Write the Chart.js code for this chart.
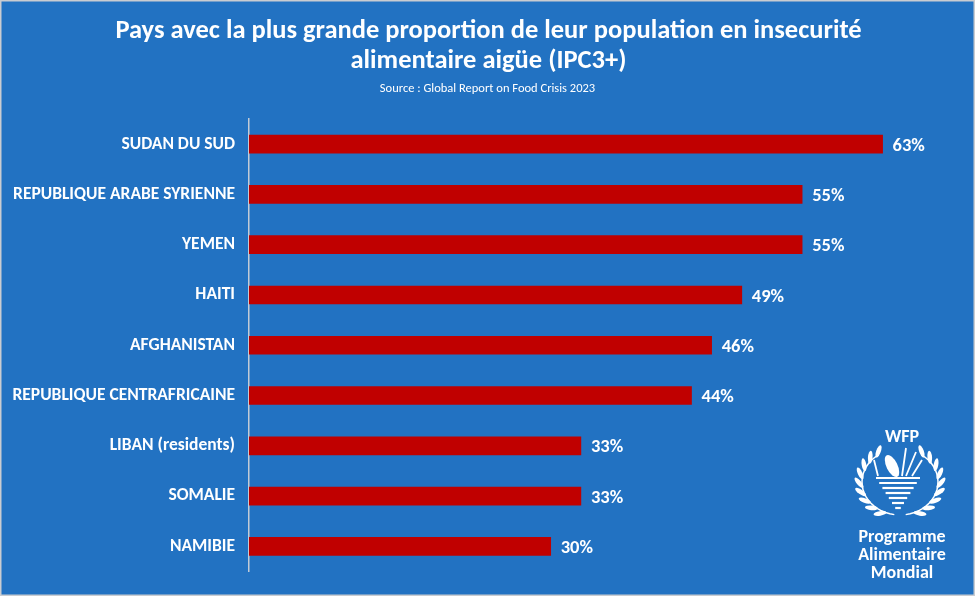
<!DOCTYPE html>
<html>
<head>
<meta charset="utf-8">
<script src="https://cdn.jsdelivr.net/npm/chart.js@4"></script>
<style>
  html, body { margin: 0; padding: 0; background: #2272c2; }
  #wrap { width: 975px; height: 596px; position: relative; }
</style>
</head>
<body>
<div id="wrap"><canvas id="graphique"></canvas></div>
<script>
const pays = [
    'SUDAN DU SUD',
    'REPUBLIQUE ARABE SYRIENNE',
    'YEMEN',
    'HAITI',
    'AFGHANISTAN',
    'REPUBLIQUE CENTRAFRICAINE',
    'LIBAN (residents)',
    'SOMALIE',
    'NAMIBIE'
];
const proportions = [63, 55, 55, 49, 46, 44, 33, 33, 30];
const titre = ['Pays avec la plus grande proportion de leur population en insecurité', 'alimentaire aigüe (IPC3+)'];
const source = 'Source : Global Report on Food Crisis 2023';

const POLICE = 'Carlito, "Open Sans", sans-serif';
const BLEU = '#2272c2';

// fond bleu + cadre gris
const fond = {
    id: 'fond',
    beforeDraw(chart) {
        const { ctx, width, height } = chart;
        ctx.save();
        ctx.fillStyle = BLEU;
        ctx.fillRect(0, 0, width, height);
        ctx.strokeStyle = '#c9ccd1';
        ctx.lineWidth = 3;
        ctx.strokeRect(0, 0, width, height);
        ctx.restore();
    }
};

// titre et source
const entete = {
    id: 'entete',
    afterDraw(chart) {
        const { ctx, width } = chart;
        ctx.save();
        ctx.fillStyle = '#ffffff';
        ctx.textAlign = 'center';
        ctx.textBaseline = 'middle';
        ctx.font = 'bold 26.5px ' + POLICE;
        ctx.fillText(titre[0], width / 2 + 1, 31);
        ctx.fillText(titre[1], width / 2 + 1, 61);
        ctx.font = '12.5px ' + POLICE;
        ctx.fillText(source, width / 2, 89);
        ctx.restore();
    }
};

// etiquettes de valeur au bout des barres
const valeurs = {
    id: 'valeurs',
    afterDatasetsDraw(chart) {
        const { ctx } = chart;
        const meta = chart.getDatasetMeta(0);
        ctx.save();
        ctx.fillStyle = '#ffffff';
        ctx.font = 'bold 18.5px ' + POLICE;
        ctx.textAlign = 'left';
        ctx.textBaseline = 'middle';
        meta.data.forEach((barre, i) => {
            ctx.fillText(proportions[i] + '%', barre.x + 10, barre.y + 2);
        });
        ctx.restore();
    }
};

// logo PAM (dessin simplifie)
const logo = {
    id: 'logo',
    afterDraw(chart) {
        const { ctx } = chart;
        const cx = 900, cy = 482;
        ctx.save();
        ctx.fillStyle = '#ffffff';
        ctx.strokeStyle = '#ffffff';
        ctx.textAlign = 'center';
        ctx.textBaseline = 'middle';
        ctx.font = 'bold 18px ' + POLICE;
        ctx.fillText('WFP', cx + 2, 437);

        // couronne de feuilles
        for (const cote of [-1, 1]) {
            ctx.lineWidth = 1.5;
            ctx.beginPath();
            for (let k = 0; k <= 20; k++) {
                const a = Math.PI / 2 + cote * (0.15 + k * 0.12);
                const x = cx + Math.cos(a) * 38;
                const y = cy + Math.sin(a) * 33;
                if (k === 0) ctx.moveTo(x, y); else ctx.lineTo(x, y);
            }
            ctx.stroke();
            for (let k = 1; k <= 9; k++) {
                const a = Math.PI / 2 + cote * (0.25 + k * 0.26);
                const x = cx + Math.cos(a) * 41;
                const y = cy + Math.sin(a) * 36;
                ctx.beginPath();
                ctx.ellipse(x, y, 6.5, 2.3, a + cote * 0.9, 0, Math.PI * 2);
                ctx.fill();
            }
        }

        // globe stylise
        ctx.lineWidth = 2.2;
        for (let k = 0; k < 7; k++) {
            const y = cy - 4 + k * 5;
            const demi = 24 - k * 3.2;
            ctx.beginPath();
            ctx.moveTo(cx - demi, y);
            ctx.lineTo(cx + demi - 4, y);
            ctx.stroke();
        }
        // epis
        ctx.beginPath();
        ctx.ellipse(cx - 8, cy - 16, 5.5, 12, -0.45, 0, Math.PI * 2);
        ctx.fill();
        ctx.lineWidth = 1.8;
        ctx.beginPath();
        ctx.moveTo(cx + 2, cy - 6); ctx.lineTo(cx + 6, cy - 34);
        ctx.moveTo(cx + 6, cy - 6); ctx.lineTo(cx + 16, cy - 30);
        ctx.moveTo(cx - 22, cy - 6); ctx.lineTo(cx - 26, cy - 22);
        ctx.moveTo(cx + 12, cy - 6); ctx.lineTo(cx + 22, cy - 22);
        ctx.stroke();

        ctx.font = 'bold 18px ' + POLICE;
        ctx.fillText('Programme', cx + 2, 537);
        ctx.fillText('Alimentaire', cx + 2, 555);
        ctx.fillText('Mondial', cx + 2, 573);
        ctx.restore();
    }
};

Chart.defaults.font.family = POLICE;

function inicializarGrafica() {
    const ctx = document.getElementById('graphique').getContext('2d');
    new Chart(ctx, {
        type: 'bar',
        data: {
            labels: pays,
            datasets: [{
                data: proportions,
                backgroundColor: '#c00000',
                borderWidth: 0,
                barThickness: 18
            }]
        },
        options: {
            indexAxis: 'y',
            responsive: true,
            maintainAspectRatio: false,
            animation: false,
            layout: {
                padding: { top: 119, bottom: 23, left: 0, right: 22 }
            },
            plugins: {
                legend: { display: false },
                tooltip: { enabled: false }
            },
            scales: {
                x: {
                    display: false,
                    min: 0,
                    max: 70
                },
                y: {
                    afterFit(scale) { scale.width = 249; },
                    grid: { display: false, drawTicks: false },
                    border: { display: true, color: '#c3cbd6', width: 1.5 },
                    ticks: {
                        color: '#ffffff',
                        padding: 14,
                        font: { size: 17.5, weight: 'bold' }
                    }
                }
            }
        },
        plugins: [fond, entete, valeurs, logo]
    });
}

document.addEventListener('DOMContentLoaded', inicializarGrafica);
</script>
</body>
</html>
